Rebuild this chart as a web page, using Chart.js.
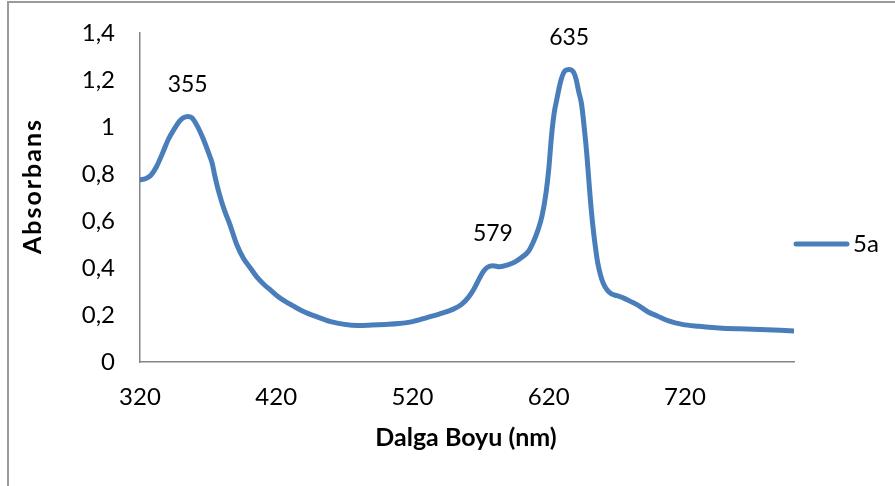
<!DOCTYPE html>
<html>
<head>
<meta charset="utf-8">
<script src="https://cdn.jsdelivr.net/npm/chart.js@4.4.1/dist/chart.umd.min.js"></script>
<style>
  html, body { margin: 0; padding: 0; background: #ffffff; }
  #wrap { width: 895px; height: 486px; position: relative; }
</style>
</head>
<body>
<div id="wrap"><canvas id="c" width="895" height="486"></canvas></div>
<script>
// UV-Vis absorption spectrum of compound 5a
const seriesName = '5a';
const wavelength = [
  320, 324, 328, 332, 337, 341, 345, 349, 352, 355, 358, 362, 366, 370, 373, 375,
  378, 382, 386, 391, 396, 401, 406, 411, 416, 421, 426, 432, 440, 450, 460, 470,
  480, 490, 500, 510, 520, 530, 540, 550, 556, 561, 565, 569, 572, 575, 579, 584,
  590, 595, 600, 605, 609, 612, 615, 618, 620, 622, 624, 626, 629, 632, 635, 638,
  640, 642, 644, 646, 648, 650, 652, 654, 656, 658, 660, 663, 666, 670, 675, 680,
  686, 693, 700, 708, 718, 730, 745, 760, 775, 790, 800
];
const absorbance = [
  0.775, 0.780, 0.795, 0.830, 0.895, 0.950, 0.990, 1.025, 1.040, 1.045, 1.040, 1.005, 0.955, 0.895, 0.845, 0.790,
  0.720, 0.645, 0.585, 0.500, 0.440, 0.400, 0.360, 0.330, 0.305, 0.280, 0.260, 0.240, 0.215, 0.192, 0.172, 0.160,
  0.155, 0.157, 0.160, 0.164, 0.172, 0.188, 0.205, 0.225, 0.245, 0.275, 0.310, 0.355, 0.385, 0.403, 0.410, 0.405,
  0.413, 0.425, 0.445, 0.470, 0.515, 0.560, 0.620, 0.720, 0.820, 0.960, 1.060, 1.120, 1.200, 1.240, 1.245, 1.235,
  1.205, 1.150, 1.100, 1.000, 0.880, 0.730, 0.600, 0.500, 0.420, 0.370, 0.335, 0.305, 0.290, 0.282, 0.272, 0.258,
  0.240, 0.213, 0.195, 0.175, 0.160, 0.152, 0.145, 0.141, 0.138, 0.135, 0.132
];
// wavelengths whose points carry a data label (label text = wavelength)
const peakLabels = [355, 579, 635];
const xTicks = [320, 420, 520, 620, 720];
const yTicks = [0, 0.2, 0.4, 0.6, 0.8, 1.0, 1.2, 1.4];
const xTitle = 'Dalga Boyu (nm)';
const yTitle = 'Absorbans';

const FONT = 'Lato, "Open Sans", sans-serif';
const lineColor = '#4a7ebb';
const axisColor = '#868686';

const points = wavelength.map((w, i) => ({ x: w, y: absorbance[i] }));

// outer frame, axis titles, legend and peak labels
const decorations = {
  id: 'decorations',
  afterDraw(chart) {
    const ctx = chart.ctx;
    const area = chart.chartArea;
    ctx.save();

    // chart frame (left and top edges)
    ctx.strokeStyle = '#9a9a9a';
    ctx.lineWidth = 2;
    ctx.beginPath();
    ctx.moveTo(8, 486);
    ctx.lineTo(8, 2);
    ctx.lineTo(895, 2);
    ctx.stroke();

    // peak labels above the marked points
    const meta = chart.getDatasetMeta(0);
    ctx.fillStyle = '#000000';
    ctx.font = '23px ' + FONT;
    ctx.textAlign = 'center';
    ctx.textBaseline = 'middle';
    peakLabels.forEach(w => {
      const i = wavelength.indexOf(w);
      const el = meta.data[i];
      ctx.fillText(String(w), el.x, el.y - 32);
    });

    // axis titles
    ctx.font = 'bold 25px ' + FONT;
    ctx.fillText(xTitle, (area.left + area.right) / 2 - 1, 438);
    ctx.save();
    ctx.translate(33, 187);
    ctx.rotate(-Math.PI / 2);
    ctx.letterSpacing = '2px';
    ctx.fillText(yTitle, 1, 0);
    ctx.restore();

    // legend
    const ly = 244;
    ctx.strokeStyle = lineColor;
    ctx.lineWidth = 5;
    ctx.lineCap = 'round';
    ctx.beginPath();
    ctx.moveTo(796, ly);
    ctx.lineTo(847, ly);
    ctx.stroke();
    ctx.font = '24px ' + FONT;
    ctx.textAlign = 'left';
    ctx.fillText(seriesName, 853, ly);

    ctx.restore();
  }
};

new Chart(document.getElementById('c'), {
  type: 'line',
  data: {
    datasets: [{
      label: seriesName,
      data: points,
      borderColor: lineColor,
      borderWidth: 5,
      pointRadius: 0,
      fill: false,
      cubicInterpolationMode: 'monotone',
      borderCapStyle: 'round',
      borderJoinStyle: 'round'
    }]
  },
  options: {
    responsive: false,
    animation: false,
    devicePixelRatio: 1,
    layout: { padding: { left: 0, top: 33, right: 101, bottom: 0 } },
    plugins: {
      legend: { display: false },
      tooltip: { enabled: false }
    },
    scales: {
      x: {
        type: 'linear',
        min: 320,
        max: 800,
        grid: { display: false, drawTicks: false },
        border: { display: true, color: axisColor, width: 1.5 },
        afterBuildTicks(scale) { scale.ticks = xTicks.map(v => ({ value: v })); },
        afterFit(scale) {
          scale.height = 124;
          scale.paddingLeft = 0;
          scale.paddingRight = 0;
        },
        ticks: {
          color: '#000000',
          font: { family: FONT, size: 24 },
          padding: 21,
          maxRotation: 0,
          autoSkip: false,
          callback: v => String(v)
        }
      },
      y: {
        type: 'linear',
        min: 0,
        max: 1.4,
        grid: { display: false, drawTicks: false },
        border: { display: true, color: axisColor, width: 1.5 },
        afterBuildTicks(scale) { scale.ticks = yTicks.map(v => ({ value: v })); },
        afterFit(scale) {
          scale.width = 140;
          scale.paddingTop = 0;
          scale.paddingBottom = 0;
        },
        ticks: {
          color: '#000000',
          font: { family: FONT, size: 24 },
          padding: 25,
          autoSkip: false,
          callback: v => String(Math.round(v * 10) / 10).replace('.', ',')
        }
      }
    }
  },
  plugins: [decorations]
});
</script>
</body>
</html>
